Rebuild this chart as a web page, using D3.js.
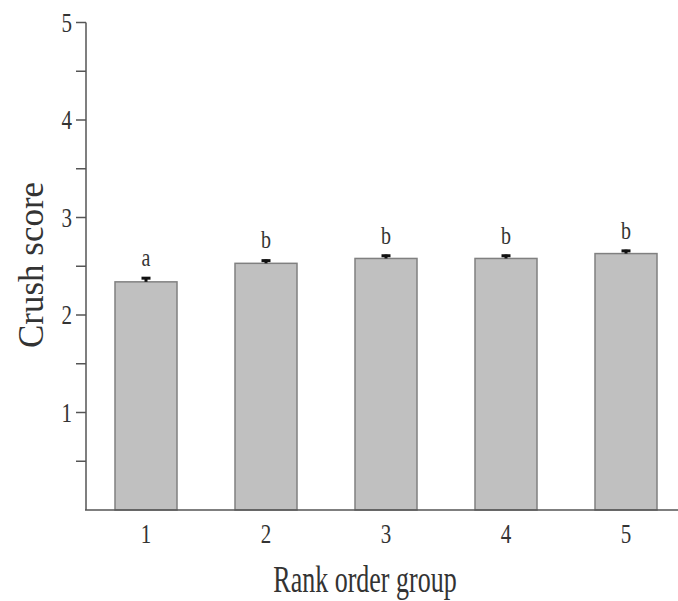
<!DOCTYPE html>
<html>
<head>
<meta charset="utf-8">
<script src="https://cdn.jsdelivr.net/npm/d3@7"></script>
<style>
  body { margin: 0; background: #fff; }
  svg { display: block; font-family: 'Liberation Serif', 'Times New Roman', serif; }
</style>
</head>
<body>
<svg id="chart"></svg>
<script>
const width = 678;
const height = 601;

// values
const groups = [1, 2, 3, 4, 5];
const means = [2.34, 2.53, 2.58, 2.58, 2.63];
const errors = [0.05, 0.04, 0.04, 0.04, 0.04];
const letters = ['a', 'b', 'b', 'b', 'b'];
const yTicks = [0.5, 1, 1.5, 2, 2.5, 3, 3.5, 4, 4.5, 5];
const yLabels = [1, 2, 3, 4, 5];

const x = d3.scaleLinear().domain([0.5, 5.5]).range([86, 686]);
const y = d3.scaleLinear().domain([0, 5]).range([510, 22.5]);
const barW = 62;

const svg = d3.select('#chart')
    .attr('width', width)
    .attr('height', height);

// bars
svg.selectAll('rect.bar')
    .data(groups)
    .enter().append('rect')
    .attr('class', 'bar')
    .attr('x', d => x(d) - barW / 2)
    .attr('y', (d, i) => y(means[i]))
    .attr('width', barW)
    .attr('height', (d, i) => y(0) - y(means[i]))
    .style('fill', '#c0c0c0')
    .style('stroke', '#808080')
    .style('stroke-width', 1.5);

// error bars (upper only)
const err = svg.selectAll('g.err')
    .data(groups)
    .enter().append('g')
    .attr('class', 'err');

err.append('line')
    .attr('x1', d => x(d))
    .attr('x2', d => x(d))
    .attr('y1', (d, i) => y(means[i]))
    .attr('y2', (d, i) => y(means[i] + errors[i]))
    .style('stroke', '#111')
    .style('stroke-width', 3);

err.append('line')
    .attr('x1', d => x(d) - 4.5)
    .attr('x2', d => x(d) + 4.5)
    .attr('y1', (d, i) => y(means[i] + errors[i]) + 1.2)
    .attr('y2', (d, i) => y(means[i] + errors[i]) + 1.2)
    .style('stroke', '#111')
    .style('stroke-width', 3);

// significance letters
svg.selectAll('text.letter')
    .data(groups)
    .enter().append('text')
    .attr('class', 'letter')
    .attr('transform', (d, i) => `translate(${x(d)}, ${y(means[i] + errors[i]) - 11}) scale(1, 1.3)`)
    .attr('text-anchor', 'middle')
    .style('font-size', '20px')
    .style('fill', '#333')
    .text((d, i) => letters[i]);

// y axis
const yAxis = svg.append('g');
yAxis.append('line')
    .attr('x1', 86).attr('x2', 86)
    .attr('y1', y(0)).attr('y2', y(5))
    .style('stroke', '#555').style('stroke-width', 1.5);
yAxis.selectAll('line.tick')
    .data(yTicks)
    .enter().append('line')
    .attr('class', 'tick')
    .attr('x1', 76).attr('x2', 86)
    .attr('y1', d => y(d)).attr('y2', d => y(d))
    .style('stroke', '#555').style('stroke-width', 1.5);
yAxis.selectAll('text')
    .data(yLabels)
    .enter().append('text')
    .attr('transform', d => `translate(72, ${y(d) + 9}) scale(1, 1.25)`)
    .attr('text-anchor', 'end')
    .style('font-size', '21px')
    .style('fill', '#333')
    .text(d => d);

// x axis
const xAxis = svg.append('g');
xAxis.append('line')
    .attr('x1', 85).attr('x2', width)
    .attr('y1', y(0)).attr('y2', y(0))
    .style('stroke', '#555').style('stroke-width', 1.5);
xAxis.selectAll('text')
    .data(groups)
    .enter().append('text')
    .attr('transform', d => `translate(${x(d)}, 543) scale(1, 1.25)`)
    .attr('text-anchor', 'middle')
    .style('font-size', '21px')
    .style('fill', '#333')
    .text(d => d);

// titles
svg.append('text')
    .attr('transform', 'translate(365, 592) scale(1, 1.45)')
    .attr('text-anchor', 'middle')
    .style('font-size', '26px')
    .style('fill', '#333')
    .text('Rank order group');

svg.append('text')
    .attr('transform', 'translate(43, 265) rotate(-90)')
    .attr('text-anchor', 'middle')
    .style('font-size', '35px')
    .style('fill', '#333')
    .text('Crush score');
</script>
</body>
</html>
